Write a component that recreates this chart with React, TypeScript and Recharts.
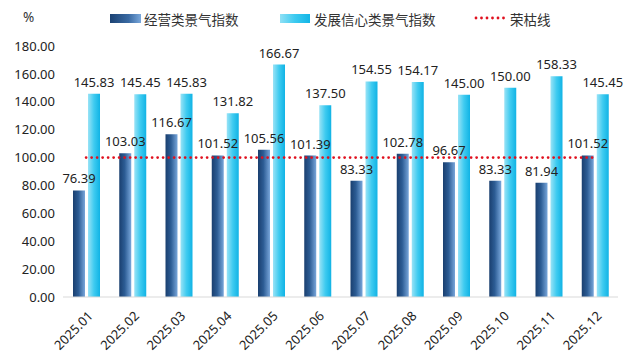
import React from 'react';
import {
  ComposedChart,
  Bar,
  Line,
  XAxis,
  YAxis,
  LabelList
} from 'recharts';

const months = [
  '2025.01', '2025.02', '2025.03', '2025.04', '2025.05', '2025.06',
  '2025.07', '2025.08', '2025.09', '2025.10', '2025.11', '2025.12'
];
const operating = [76.39, 103.03, 116.67, 101.52, 105.56, 101.39, 83.33, 102.78, 96.67, 83.33, 81.94, 101.52];
const confidence = [145.83, 145.45, 145.83, 131.82, 166.67, 137.5, 154.55, 154.17, 145.0, 150.0, 158.33, 145.45];
const boomLine = [100, 100, 100, 100, 100, 100, 100, 100, 100, 100, 100, 100];
const yTicks = [0, 20, 40, 60, 80, 100, 120, 140, 160, 180];

const chartData = months.map((m, i) => ({
  month: m,
  operating: operating[i],
  confidence: confidence[i],
  boom: boomLine[i]
}));

const FONT = '"Noto Sans", "Noto Sans CJK SC", sans-serif';

const fmt = (v: number) => Number(v).toFixed(2);

const MonthTick = (props: any) => {
  const { x, y, payload } = props;
  return (
    <g transform={`translate(${x + 2},${y + 6})`}>
      <text
        x={0}
        y={0}
        dy={8}
        textAnchor="end"
        transform="rotate(-45)"
        fill="#222"
        fontSize={13}
        fontFamily={FONT}
      >
        {payload.value}
      </text>
    </g>
  );
};

const LegendBar = () => (
  <div
    style={{
      position: 'absolute',
      top: 0,
      left: 0,
      width: 640,
      height: 40,
      fontFamily: FONT,
      fontSize: 13.5,
      color: '#333'
    }}
  >
    <span style={{ position: 'absolute', left: 23, top: 8 }}>%</span>
    <span
      style={{
        position: 'absolute', left: 110, top: 14, width: 31, height: 9,
        background: 'linear-gradient(to right, #1b4273, #3a6aa3 60%, #7aa8dc)'
      }}
    />
    <span style={{ position: 'absolute', left: 144, top: 9 }}>经营类景气指数</span>
    <span
      style={{
        position: 'absolute', left: 280, top: 14, width: 30, height: 9,
        background: 'linear-gradient(to right, #8fe0f5, #3ccaf0 50%, #12b5e6)'
      }}
    />
    <span style={{ position: 'absolute', left: 314, top: 9 }}>发展信心类景气指数</span>
    <svg style={{ position: 'absolute', left: 474, top: 14 }} width={34} height={8}>
      <line x1={2} y1={4} x2={32} y2={4} stroke="#e0101e" strokeWidth={2.8}
        strokeDasharray="0 5.5" strokeLinecap="round" />
    </svg>
    <span style={{ position: 'absolute', left: 510, top: 9 }}>荣枯线</span>
  </div>
);

export default function App() {
  return (
    <div style={{ position: 'relative', width: 640, height: 364, background: '#fff' }}>
      <style>{'body{margin:0;}'}</style>
      <ComposedChart
        width={640}
        height={364}
        data={chartData}
        margin={{ top: 46, right: 22, left: 0, bottom: 0 }}
        barGap={3}
      >
        <defs>
          <linearGradient id="gradDark" x1="0" y1="0" x2="1" y2="0">
            <stop offset="0%" stopColor="#1a3f6f" />
            <stop offset="45%" stopColor="#2c5c94" />
            <stop offset="100%" stopColor="#78a6da" />
          </linearGradient>
          <linearGradient id="gradLight" x1="0" y1="0" x2="1" y2="0">
            <stop offset="0%" stopColor="#9ae3f6" />
            <stop offset="50%" stopColor="#3fcbf0" />
            <stop offset="100%" stopColor="#10b3e5" />
          </linearGradient>
        </defs>
        <XAxis
          dataKey="month"
          height={67}
          interval={0}
          tickLine={false}
          axisLine={{ stroke: '#d9d9d9' }}
          tick={<MonthTick />}
        />
        <YAxis
          width={63}
          domain={[0, 180]}
          ticks={yTicks}
          tickFormatter={fmt}
          axisLine={false}
          tickLine={false}
          tick={{ fontSize: 13, fill: '#222', fontFamily: FONT }}
        />
        <Bar dataKey="operating" fill="url(#gradDark)" barSize={12} isAnimationActive={false}>
          <LabelList dataKey="operating" position="top" offset={7} formatter={(v: any) => fmt(v)}
            style={{ fontSize: 13, fill: '#222', fontFamily: FONT }} />
        </Bar>
        <Bar dataKey="confidence" fill="url(#gradLight)" barSize={12} isAnimationActive={false}>
          <LabelList dataKey="confidence" position="top" offset={7} formatter={(v: any) => fmt(v)}
            style={{ fontSize: 13, fill: '#222', fontFamily: FONT }} />
        </Bar>
        <Line
          dataKey="boom"
          stroke="#e0101e"
          strokeWidth={2.8}
          strokeDasharray="0 5.5"
          strokeLinecap="round"
          dot={false}
          activeDot={false}
          isAnimationActive={false}
        />
      </ComposedChart>
      <LegendBar />
    </div>
  );
}
